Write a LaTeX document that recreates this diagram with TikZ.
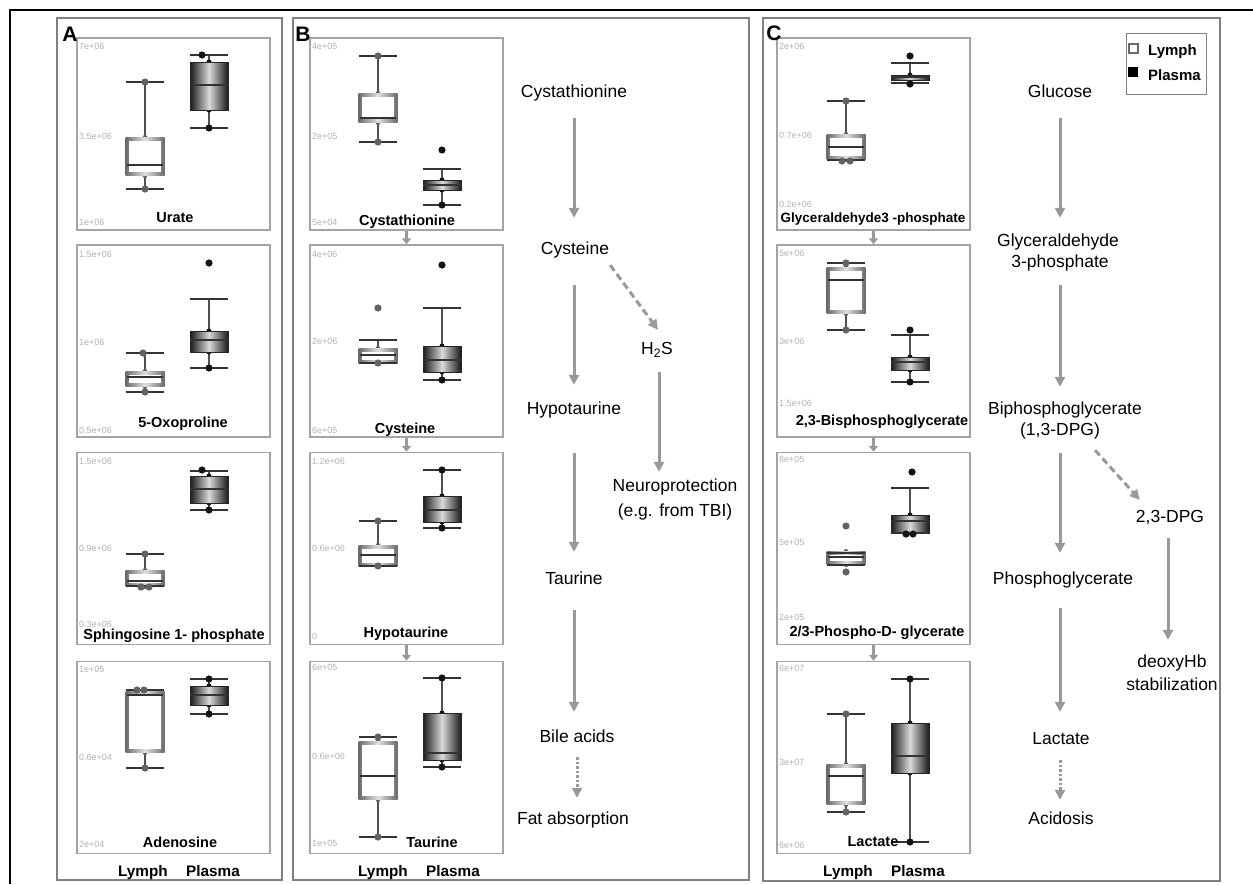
\documentclass[tikz,border=0pt]{standalone}
\usepackage{fontspec}
\setmainfont{Liberation Sans}
\usetikzlibrary{arrows.meta,calc}
\definecolor{pgray}{HTML}{808080}
\definecolor{fgray}{HTML}{A4A4A4}
\definecolor{agray}{HTML}{999999}
\definecolor{tgray}{HTML}{B2B2B2}
\definecolor{lgray}{HTML}{6A6A6A}
\definecolor{ldc}{HTML}{626262}
\definecolor{pdc}{HTML}{141414}
\definecolor{wgray}{HTML}{505050}
\newcommand{\lymphbox}[6]{%
  \draw[whisk] (#1,#2) -- (#1,#3) (#1,#5) -- (#1,#6);
  \fill[lymphfill] (#1,#3-1.5) circle (2.5) (#1,#5+1.5) circle (2.5);
  \shade[left color=lgray,right color=lgray,middle color=black!12] (#1-19.5,#3-1.6) rectangle (#1+19.5,#5+1.6);
  \fill[white] (#1-16.3,#3+1.6) rectangle (#1+16.3,#5-1.6);
  \draw[medline] (#1-18,#4) -- (#1+18,#4);
  \draw[capline] (#1-19,#2) -- (#1+19,#2) (#1-19,#6) -- (#1+19,#6);
}
\newcommand{\plasmabox}[6]{%
  \draw[whisk] (#1,#2) -- (#1,#3) (#1,#5) -- (#1,#6);
  \fill[plasmafill] (#1,#3) circle (2.5) (#1,#5) circle (2.5);
  \shade[left color=black!90, right color=black!90, middle color=black!15] (#1-19,#3) rectangle (#1+19,#5);
  \draw[plasmarect] (#1-19,#3) rectangle (#1+19,#5);
  \draw[medline] (#1-19,#4) -- (#1+19,#4);
  \draw[capline] (#1-19,#2) -- (#1+19,#2) (#1-19,#6) -- (#1+19,#6);
}
\newcommand{\lymphdot}[2]{\fill[lymphfill] (#1,#2) circle (3.6);}
\newcommand{\plasmadot}[2]{\fill[plasmafill] (#1,#2) circle (3.6);}
\begin{document}
\begin{tikzpicture}[x=1pt,y=-1pt,
  whisk/.style={draw=wgray,line width=1.4pt},
  capline/.style={draw=black!80,line width=1.3pt},
  medline/.style={draw=black!80,line width=1.1pt},
  plasmarect/.style={draw=black!85,line width=0.8pt},
  lymphfill/.style={fill=ldc},
  plasmafill/.style={fill=pdc},
  panelframe/.style={draw=pgray,line width=1.2pt},
  pframe/.style={draw=fgray,line width=1.5pt,minimum width=193pt,minimum height=192pt,inner sep=0pt},
  axl/.style={font=\fontsize{9}{10}\selectfont,text=tgray,anchor=west,inner sep=0pt},
  ttl/.style={font=\bfseries\fontsize{14.5}{16}\selectfont,inner sep=0pt},
  ttls/.style={font=\bfseries\fontsize{13.5}{15}\selectfont,inner sep=0pt},
  grp/.style={font=\bfseries\fontsize{15.3}{17}\selectfont,inner sep=0pt,anchor=base},
  letter/.style={font=\bfseries\fontsize{21}{23}\selectfont,inner sep=0pt},
  pnode/.style={font=\fontsize{17.5}{20}\selectfont,inner sep=0pt,text height=13pt,text depth=4pt},
  flow/.style={draw=agray,line width=3pt,-{Triangle[length=10pt,width=10pt]}},
  flowdash/.style={flow,dash pattern=on 7pt off 4pt},
  flowdot/.style={flow,dash pattern=on 2.5pt off 2pt},
  small/.style={draw=agray,line width=3pt,-{Triangle[length=6pt,width=9pt]}},
  legbox/.style={draw=pgray,line width=1pt,minimum width=80pt,minimum height=61pt,inner sep=0pt},
  legtxt/.style={font=\bfseries\fontsize{15}{17}\selectfont,inner sep=0pt,anchor=west}
]
\useasboundingbox (0,0) rectangle (1253,884);
% outer frame
\draw[black,line width=1.5pt] (10,884) -- (10,10) -- (1253,10);
% panels
\draw[panelframe] (57,18) rectangle (282,880);
\draw[panelframe] (293,18) rectangle (749,880);
\draw[panelframe] (763,18) rectangle (1220,881);

% ================= Panel A =================
\node[pframe] (a1) at (173.5,134) {};
\node[pframe] (a2) at (173.5,341) {};
\node[pframe] (a3) at (173.5,548.5) {};
\node[pframe] (a4) at (173.5,757.5) {};
% A1 Urate
\node[axl] (a1y1) at (79,46) {7e+06};
\node[axl] (a1y2) at (79,136) {3.5e+06};
\node[axl] (a1y3) at (79,222) {1e+06};
\lymphbox{145}{82}{139}{165}{174}{189}
\lymphdot{145}{82}\lymphdot{145}{189}
\plasmabox{209}{55}{62}{85}{110}{128}
\plasmadot{202}{55}\plasmadot{209}{128}
\node[ttl] (a1t) at (175,218) {Urate};
% A2 5-Oxoproline
\node[axl] (a2y1) at (79,254) {1.5e+06};
\node[axl] (a2y2) at (79,342) {1e+06};
\node[axl] (a2y3) at (79,430) {0.5e+06};
\lymphbox{145}{353}{373}{377}{385}{392}
\lymphdot{143}{353}\lymphdot{145}{392}
\plasmabox{209}{299}{331}{340}{352}{368}
\plasmadot{209}{263}\plasmadot{209}{368}
\node[ttl] (a2t) at (183,424) {5-Oxoproline};
% A3 Sphingosine 1-phosphate
\node[axl] (a3y1) at (79,461) {1.5e+06};
\node[axl] (a3y2) at (79,548) {0.9e+06};
\node[axl] (a3y3) at (79,624) {0.3e+06};
\lymphbox{145}{554}{572}{581}{585}{586}
\lymphdot{145}{554}\lymphdot{141}{587}\lymphdot{149}{587}
\plasmabox{209}{471}{476}{489}{503}{510}
\plasmadot{202}{470}\plasmadot{209}{510}
\node[ttl] (a3t) at (174,636) {Sphingosine 1- phosphate};
% A4 Adenosine
\node[axl] (a4y1) at (79,669) {1e+05};
\node[axl] (a4y2) at (79,757) {0.6e+04};
\node[axl] (a4y3) at (79,844) {2e+04};
\lymphbox{145}{690}{693}{695}{751}{768}
\lymphdot{137}{690}\lymphdot{144}{690}\lymphdot{145}{768}
\plasmabox{209}{679}{686}{695}{705}{714}
\plasmadot{209}{679}\plasmadot{209}{714}
\node[ttl] (a4t) at (180,842) {Adenosine};
\node[grp] (agl) at (143,876) {Lymph};
\node[grp] (agp) at (213,876) {Plasma};

% ================= Panel B =================
\node[pframe] (b1) at (406.5,134) {};
\node[pframe] (b2) at (406.5,341) {};
\node[pframe] (b3) at (406.5,548.5) {};
\node[pframe] (b4) at (406.5,757.5) {};
\draw[small] (b1.south) -- (b2.north);
\draw[small] (b2.south) -- (b3.north);
\draw[small] (b3.south) -- (b4.north);
% B1 Cystathionine
\node[axl] (b1y1) at (312,46) {4e+05};
\node[axl] (b1y2) at (312,136) {2e+05};
\node[axl] (b1y3) at (312,222) {5e+04};
\lymphbox{378}{56}{95}{118}{121}{142}
\lymphdot{378}{56}\lymphdot{378}{142}
\plasmabox{442}{169}{180}{185}{190}{205}
\plasmadot{442}{150}\plasmadot{442}{205}
\node[ttl] (b1t) at (407,222) {Cystathionine};
% B2 Cysteine
\node[axl] (b2y1) at (312,254) {4e+06};
\node[axl] (b2y2) at (312,341) {2e+06};
\node[axl] (b2y3) at (312,430) {6e+05};
\lymphbox{378}{340}{350}{355}{362}{363}
\lymphdot{378}{308}\lymphdot{378}{363}
\plasmabox{442}{308}{346}{360}{372}{380}
\plasmadot{442}{265}\plasmadot{442}{380}
\node[ttl] (b2t) at (405,430) {Cysteine};
% B3 Hypotaurine
\node[axl] (b3y1) at (312,461) {1.2e+06};
\node[axl] (b3y2) at (312,548) {0.6e+06};
\node[axl] (b3y3) at (312,636) {0};
\lymphbox{378}{521}{547}{555}{565}{566}
\lymphdot{378}{521}\lymphdot{378}{566}
\plasmabox{442}{470}{496}{510}{522}{528}
\plasmadot{442}{470}\plasmadot{442}{528}
\node[ttl] (b3t) at (406,634) {Hypotaurine};
% B4 Taurine
\node[axl] (b4y1) at (312,667) {6e+05};
\node[axl] (b4y2) at (312,756) {0.6e+06};
\node[axl] (b4y3) at (312,843) {1e+05};
\lymphbox{378}{737}{743}{776}{798}{837}
\lymphdot{378}{737}\lymphdot{378}{837}
\plasmabox{442}{678}{713}{753}{760}{767}
\plasmadot{442}{678}\plasmadot{442}{767}
\node[ttl] (b4t) at (432,842) {Taurine};
\node[grp] (bgl) at (383,876) {Lymph};
\node[grp] (bgp) at (453,876) {Plasma};
% B pathway
\node[pnode] (cysta) at (574,93) {Cystathionine};
\node[pnode] (cyste) at (575,250) {Cysteine};
\node[pnode] (hypo) at (574,410) {Hypotaurine};
\node[pnode] (taur) at (574,580) {Taurine};
\node[pnode] (bile) at (577,738) {Bile acids};
\node[pnode] (fat) at (573,820) {Fat absorption};
\node[pnode] (hts) at (657,350) {H\textsubscript{2}S};
\node[pnode] (neuro) at (675,487) {Neuroprotection};
\node[pnode] (neurob) at (675,512) {(e.g. from TBI)};
\draw[flow,shorten <=16.5pt,shorten >=23.5pt] (cysta.south) -- (cysta.south |- cyste.north);
\draw[flow,shorten <=26.5pt,shorten >=16.5pt] (cysta.south |- cyste.south) -- (cysta.south |- hypo.north);
\draw[flow,shorten <=34.5pt,shorten >=19.5pt] (cysta.south |- hypo.south) -- (cysta.south |- taur.north);
\draw[flow,shorten <=21.5pt,shorten >=17.5pt] (cysta.south |- taur.south) -- (cysta.south |- bile.north);
\draw[flowdot,shorten <=10.5pt,shorten >=13.5pt] (bile.south) -- (bile.south |- fat.north);
\draw[flowdash] ($(cyste.south east)+(1,6.5)$) -- ($(hts.north)+(1,-11.5)$);
\draw[flow,shorten <=13.5pt,shorten >=6.5pt] ($(hts.south)+(2,0)$) -- ($(hts.south |- neuro.north)+(2,0)$);

% ================= Panel C =================
\node[pframe] (c1) at (873.5,134) {};
\node[pframe] (c2) at (873.5,341) {};
\node[pframe] (c3) at (873.5,548.5) {};
\node[pframe] (c4) at (873.5,757.5) {};
\draw[small] (c1.south) -- (c2.north);
\draw[small] (c2.south) -- (c3.north);
\draw[small] (c3.south) -- (c4.north);
% C1
\node[axl] (c1y1) at (779,46) {2e+06};
\node[axl] (c1y2) at (779,135) {0.7e+06};
\node[axl] (c1y3) at (779,204) {0.2e+06};
\lymphbox{846}{101}{136}{147}{158}{160}
\lymphdot{846}{101}\lymphdot{842}{161}\lymphdot{850}{161}
\plasmabox{910}{63}{75}{77}{80}{83}
\plasmadot{910}{56}\plasmadot{910}{84}
\node[ttls] (c1t) at (873,219) {Glyceraldehyde3 -phosphate};
% C2
\node[axl] (c2y1) at (779,253) {5e+06};
\node[axl] (c2y2) at (779,341) {3e+06};
\node[axl] (c2y3) at (779,403) {1.5e+06};
\lymphbox{846}{263}{269}{280}{312}{330}
\lymphdot{846}{263}\lymphdot{846}{330}
\plasmabox{910}{335}{357}{362}{370}{382}
\plasmadot{910}{330}\plasmadot{910}{382}
\node[ttl] (c2t) at (882,422) {2,3-Bisphosphoglycerate};
% C3
\node[axl] (c3y1) at (779,459) {8e+05};
\node[axl] (c3y2) at (779,542) {5e+05};
\node[axl] (c3y3) at (779,617) {2e+05};
\lymphbox{846}{553}{553}{557}{563}{565}
\lymphdot{846}{526}\lymphdot{846}{572}
\plasmabox{910}{488}{515}{521}{533}{533}
\plasmadot{912}{472}\plasmadot{906}{534}\plasmadot{913}{534}
\node[ttl] (c3t) at (877,633) {2/3-Phospho-D- glycerate};
% C4
\node[axl] (c4y1) at (779,668) {6e+07};
\node[axl] (c4y2) at (779,762) {3e+07};
\node[axl] (c4y3) at (779,845) {6e+06};
\lymphbox{846}{714}{766}{776}{803}{812}
\lymphdot{846}{714}\lymphdot{846}{812}
\plasmabox{910}{679}{723}{756}{773}{842}
\plasmadot{910}{679}\plasmadot{910}{842}
\node[ttl] (c4t) at (873,842) {Lactate};
\node[grp] (cgl) at (848,876) {Lymph};
\node[grp] (cgp) at (918,876) {Plasma};
% C pathway
\node[pnode] (gluc) at (1060,93) {Glucose};
\node[pnode] (glya) at (1058,242) {Glyceraldehyde};
\node[pnode] (glyb) at (1060,263) {3-phosphate};
\node[pnode] (bpga) at (1065,410) {Biphosphoglycerate};
\node[pnode] (bpgb) at (1060,431) {(1,3-DPG)};
\node[pnode] (dpg) at (1170,518) {2,3-DPG};
\node[pnode] (dxa) at (1172,663) {deoxyHb};
\node[pnode] (dxb) at (1172,686) {stabilization};
\node[pnode] (pgl) at (1063,580) {Phosphoglycerate};
\node[pnode] (lact) at (1061,740) {Lactate};
\node[pnode] (acid) at (1061,820) {Acidosis};
\draw[flow,shorten <=16.5pt,shorten >=15.5pt] (gluc.south) -- (gluc.south |- glya.north);
\draw[flow,shorten <=13.5pt,shorten >=14.5pt] (gluc.south |- glyb.south) -- (gluc.south |- bpga.north);
\draw[flow,shorten <=13.5pt,shorten >=18.5pt] (gluc.south |- bpgb.south) -- (gluc.south |- pgl.north);
\draw[flow,shorten <=19.5pt,shorten >=19.5pt] (gluc.south |- pgl.south) -- (gluc.south |- lact.north);
\draw[flowdot,shorten <=11.5pt,shorten >=11.5pt] (gluc.south |- lact.south) -- (gluc.south |- acid.north);
\draw[flowdash] ($(bpgb.south east)+(-5,10.5)$) -- ($(dpg.north west)+(4,-9.5)$);
\draw[flow,shorten <=11.5pt,shorten >=14.5pt] ($(dpg.south)+(-2,0)$) -- ($(dpg.south |- dxa.north)+(-2,0)$);
% legend
\node[legbox] (leg) at (1166,63.5) {};
\draw[draw=lgray,line width=2pt,fill=white] (1128.5,43.5) rectangle (1137.5,52.5);
\fill[black] (1128,67) rectangle (1138,77);
\node[legtxt] (legl) at (1148,52) {Lymph};
\node[legtxt] (legp) at (1148,75) {Plasma};
% panel letters (on top)
\node[letter] (la) at (70,34) {A};
\node[letter] (lb) at (303,34) {B};
\node[letter] (lc) at (774,33) {C};
\end{tikzpicture}
\end{document}
